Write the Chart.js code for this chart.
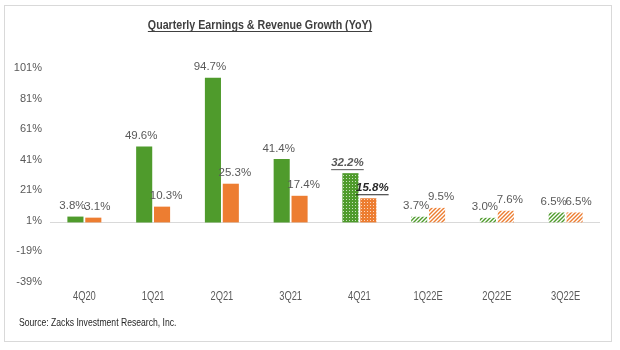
<!DOCTYPE html>
<html>
<head>
<meta charset="utf-8">
<script src="https://cdn.jsdelivr.net/npm/chart.js@4"></script>
<style>
body { margin: 0; background: #fff; }
#frame { position: absolute; left: 4px; top: 5px; width: 606px; height: 335px; border: 1px solid #d9d9d9; }
#wrap { position: absolute; left: 0; top: 0; width: 620px; height: 350px; }
</style>
</head>
<body>
<div id="frame"></div>
<div id="wrap"><canvas id="canvas" width="620" height="350"></canvas></div>
<script>
var quarters = ["4Q20", "1Q21", "2Q21", "3Q21", "4Q21", "1Q22E", "2Q22E", "3Q22E"]
var earnings = [3.8, 49.6, 94.7, 41.4, 32.2, 3.7, 3.0, 6.5]
var revenue = [3.1, 10.3, 25.3, 17.4, 15.8, 9.5, 7.6, 6.5]
// 0 = solid actual, 1 = dotted (just reported), 2 = hatched estimate
var barStyle = [0, 0, 0, 0, 1, 2, 2, 2]
var yTicks = [-39, -19, 1, 21, 41, 61, 81, 101]
var titleText = "Quarterly Earnings & Revenue Growth (YoY)"
var sourceText = "Source: Zacks Investment Research, Inc."

var GREEN = "#4f9b2c"
var ORANGE = "#ed7d31"
var FONT = "'Liberation Sans', Arial, sans-serif"

function dotPattern(color) {
    var c = document.createElement("canvas")
    c.width = 3; c.height = 3
    var x = c.getContext("2d")
    x.fillStyle = color
    x.fillRect(0, 0, 3, 3)
    x.fillStyle = "rgba(255,255,255,0.7)"
    x.fillRect(1, 1, 1, 1)
    return x.createPattern(c, "repeat")
}
function hatchPattern(color) {
    var c = document.createElement("canvas")
    c.width = 4; c.height = 4
    var x = c.getContext("2d")
    x.fillStyle = "#fff"
    x.fillRect(0, 0, 4, 4)
    x.strokeStyle = color
    x.lineWidth = 1.4
    x.beginPath()
    x.moveTo(-1, 5); x.lineTo(5, -1)
    x.moveTo(-1, 1); x.lineTo(1, -1)
    x.moveTo(3, 5); x.lineTo(5, 3)
    x.stroke()
    return x.createPattern(c, "repeat")
}
function fills(color) {
    var dot = dotPattern(color), hatch = hatchPattern(color)
    return barStyle.map(function(s) { return s == 0 ? color : (s == 1 ? dot : hatch) })
}

// narrow text: Arial Narrow isn't installed, so squeeze Liberation Sans
function narrowText(ctx, txt, x, y, sx) {
    ctx.save()
    ctx.translate(x, y)
    ctx.scale(sx, 1)
    ctx.fillText(txt, 0, 0)
    ctx.restore()
    return ctx.measureText(txt).width * sx
}

var decor = {
    id: "decor",
    beforeDatasetsDraw: function(chart) {
        var ctx = chart.ctx, y = chart.scales.y, a = chart.chartArea
        var y0 = Math.round(y.getPixelForValue(0)) + 0.5
        ctx.save()
        ctx.strokeStyle = "#d9d9d9"
        ctx.lineWidth = 1
        ctx.beginPath()
        ctx.moveTo(a.left, y0); ctx.lineTo(a.right, y0)
        ctx.stroke()
        ctx.restore()
    },
    afterDatasetsDraw: function(chart) {
        var ctx = chart.ctx, xs = chart.scales.x
        ctx.save()
        // title
        ctx.font = "bold 13px " + FONT
        ctx.fillStyle = "#404040"
        ctx.textAlign = "center"
        ctx.textBaseline = "alphabetic"
        var tw = narrowText(ctx, titleText, 260, 29, 0.82)
        ctx.fillRect(260 - tw / 2, 31, tw, 1)
        // x labels
        ctx.font = "12px " + FONT
        ctx.fillStyle = "#595959"
        ctx.textBaseline = "middle"
        quarters.forEach(function(q, i) {
            narrowText(ctx, q, xs.getPixelForValue(i), 297, 0.78)
        })
        // source
        ctx.font = "10.5px " + FONT
        ctx.fillStyle = "#262626"
        ctx.textAlign = "left"
        narrowText(ctx, sourceText, 19, 323, 0.82)
        // data labels
        chart.data.datasets.forEach(function(ds, di) {
            chart.getDatasetMeta(di).data.forEach(function(bar, i) {
                var txt = ds.data[i].toFixed(1) + "%"
                var special = barStyle[i] == 1
                ctx.font = (special ? "italic bold " : "") + "11.5px " + FONT
                ctx.fillStyle = special && di == 1 ? "#262626" : "#595959"
                ctx.textAlign = "center"
                ctx.textBaseline = "bottom"
                var lx = bar.x + (di == 0 ? -3 : 4), ly = bar.y - 5
                ctx.fillText(txt, lx, ly)
                if (special) {
                    var w = ctx.measureText(txt).width
                    ctx.fillRect(lx - w / 2, ly + 1, w, 1)
                }
            })
        })
        ctx.restore()
    }
}

var chart = new Chart(document.getElementById("canvas").getContext("2d"), {
    type: "bar",
    data: {
        labels: quarters,
        datasets: [
            { label: "Earnings", data: earnings, backgroundColor: fills(GREEN) },
            { label: "Revenue", data: revenue, backgroundColor: fills(ORANGE) }
        ]
    },
    options: {
        responsive: false,
        animation: false,
        categoryPercentage: 0.52,
        barPercentage: 0.9,
        layout: { padding: { top: 68, right: 20, bottom: 38, left: 0 } },
        plugins: { legend: { display: false }, tooltip: { enabled: false } },
        scales: {
            x: {
                grid: { display: false, drawTicks: false },
                border: { display: false },
                ticks: { display: false },
                afterFit: function(s) { s.height = 30 }
            },
            y: {
                min: -39, max: 101,
                grid: { display: false, drawTicks: false },
                border: { display: false },
                afterBuildTicks: function(s) { s.ticks = yTicks.map(function(v) { return { value: v } }) },
                afterFit: function(s) { s.width = 50 },
                ticks: {
                    color: "#595959", padding: 8,
                    font: { family: FONT, size: 11 },
                    callback: function(v) { return v + "%" }
                }
            }
        }
    },
    plugins: [decor]
})
</script>
</body>
</html>
